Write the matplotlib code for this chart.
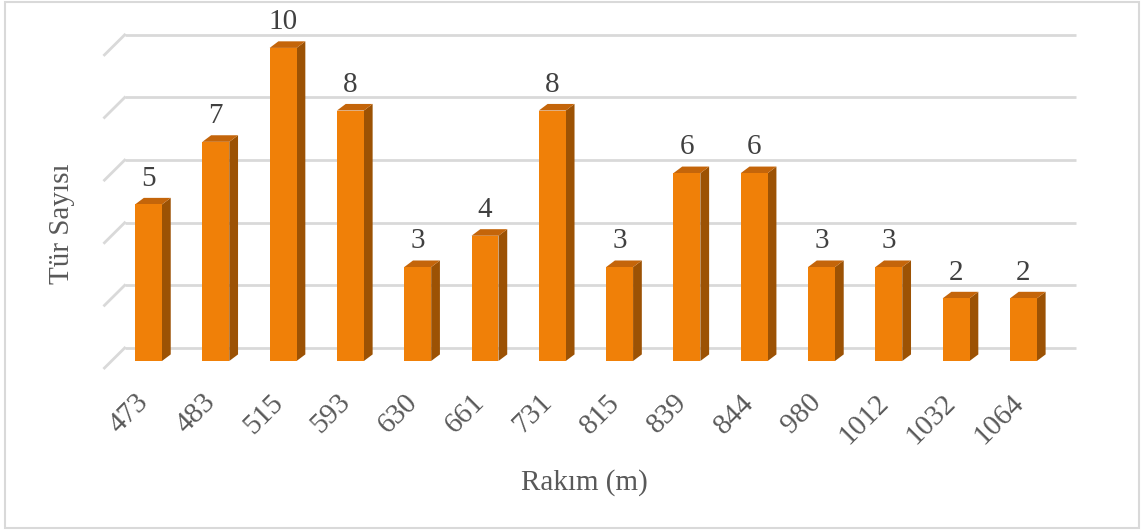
import matplotlib.pyplot as plt
from matplotlib.patches import Polygon, Rectangle

plt.rcParams['font.family'] = ['Liberation Serif', 'DejaVu Serif']

# data
rakim = ["473", "483", "515", "593", "630", "661", "731", "815",
         "839", "844", "980", "1012", "1032", "1064"]
tur_sayisi = [5, 7, 10, 8, 3, 4, 8, 3, 6, 6, 3, 3, 2, 2]
grid_vals = [0, 2, 4, 6, 8, 10]

# colours
c_front = "#F08008"
c_side = "#9C5204"
c_top = "#C4650A"
c_grid = "#D9D9D9"
c_label = "#404040"
c_axis = "#595959"

# fake-3d geometry (data units: x = category index, y = value)
depth_x, depth_y = 0.30, 0.64   # floor front -> back wall
bar_d0 = 0.35                   # bar front position as fraction of floor depth
bar_w = 0.40
bar_dx, bar_dy = 0.13, 0.21     # bar depth offset
wall_left, wall_right = -0.55, 13.58


def shift(d):
    return (d - bar_d0) * depth_x, (d - bar_d0) * depth_y


fig = plt.figure(figsize=(11.44, 5.31), dpi=100)
ax = fig.add_axes([0, 0, 1, 1])
ax.set_xlim(-2.207, 14.792)
ax.set_ylim(-5.43, 11.53)
ax.axis("off")

# gridlines: back wall + left wall diagonal
bx, by = shift(1.0)
fx, fy = shift(0.0)
for g in grid_vals:
    ax.plot([wall_left + bx, wall_right + bx], [g + by, g + by],
            color=c_grid, lw=2, zorder=1, solid_capstyle="butt")
    ax.plot([wall_left + fx, wall_left + bx], [g + fy, g + by],
            color=c_grid, lw=2, zorder=1)

# bars
for i, v in enumerate(tur_sayisi):
    x0, x1 = i - bar_w / 2, i + bar_w / 2
    ax.add_patch(Polygon([(x1, 0), (x1 + bar_dx, bar_dy), (x1 + bar_dx, v + bar_dy), (x1, v)],
                         closed=True, fc=c_side, ec="none", zorder=2))
    ax.add_patch(Polygon([(x0, v), (x0 + bar_dx, v + bar_dy), (x1 + bar_dx, v + bar_dy), (x1, v)],
                         closed=True, fc=c_top, ec="none", zorder=2))
    ax.add_patch(Rectangle((x0, 0), bar_w, v, fc=c_front, ec="none", zorder=3))
    ax.text(i, v + bar_dy + 0.2, str(v), ha="center", va="bottom",
            fontsize=21, color=c_label, zorder=4)
    ax.text(i - 0.06, -1.2, rakim[i], rotation=45, rotation_mode="anchor",
            ha="right", va="center", fontsize=21, color=c_axis)

fig.text(62 / 1144, 1 - 224 / 531, "Tür Sayısı", rotation=90, ha="center",
         va="center", fontsize=21, color=c_axis)
fig.text(584 / 1144, 1 - 483 / 531, "Rakım (m)", ha="center", va="center",
         fontsize=21, color=c_axis)

# chart border
fig.patches.append(Rectangle((5 / 1144, 3 / 531), 1134 / 1144, 526 / 531,
                             transform=fig.transFigure, fill=False,
                             ec=c_grid, lw=1.5))

fig.savefig("out.png", dpi=100)
